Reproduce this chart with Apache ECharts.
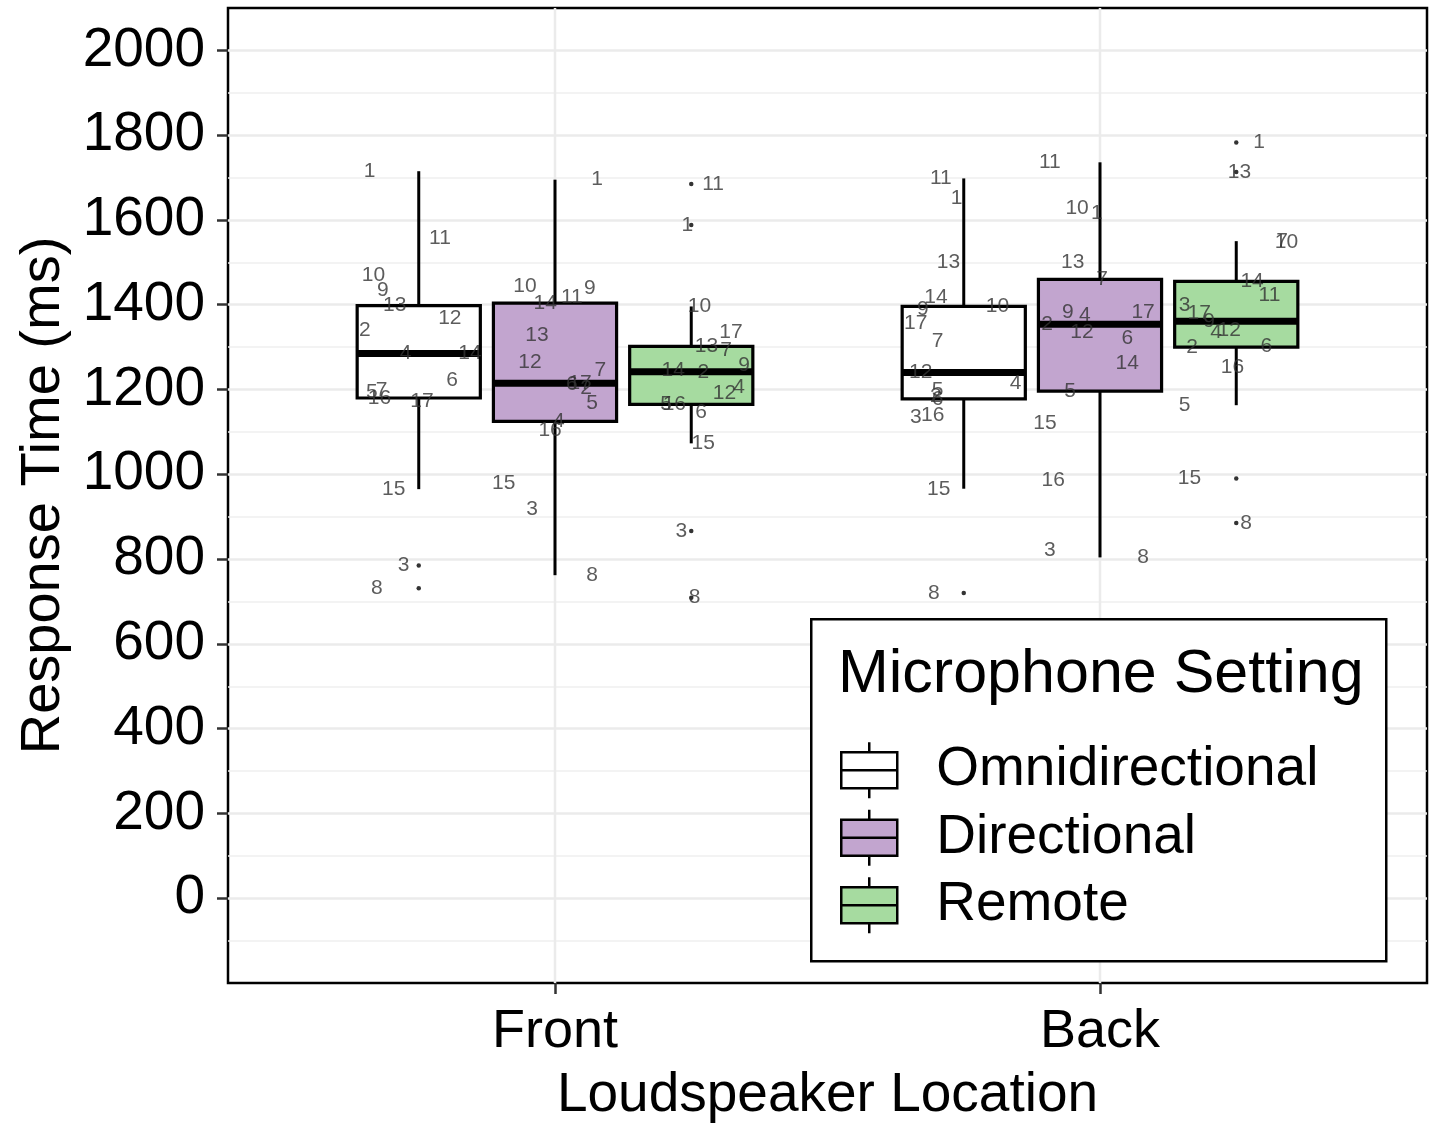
<!DOCTYPE html>
<html>
<head>
<meta charset="utf-8">
<title>Response Time by Loudspeaker Location</title>
<script src="https://cdn.jsdelivr.net/npm/echarts@6/dist/echarts.min.js"></script>
<style>
  html, body { margin: 0; padding: 0; background: #fff; }
  #chart { width: 1435px; height: 1131px; }
</style>
</head>
<body>
<div id="chart"></div>
<script>
// Categories
const locations = ['Front', 'Back'];
const settings = ['Omnidirectional', 'Directional', 'Remote'];
const yTicks = [0, 200, 400, 600, 800, 1000, 1200, 1400, 1600, 1800, 2000];

// Response times (ms) per participant, listed for participants 1..17
const frontOmni        = [1715, 1340, 785, 1285, 1193, 1222, 1198, 731, 1434, 1469, 1557, 1368, 1398, 1285, 965, 1180, 1172];
const frontDirectional = [1695, 1203, 917, 1125, 1167, 1213, 1245, 762, 1439, 1443, 1417, 1264, 1328, 1404, 979, 1104, 1215];
const frontRemote      = [1588, 1242, 866, 1205, 1165, 1146, 1292, 709, 1257, 1396, 1685, 1191, 1302, 1245, 1073, 1165, 1335];
const backOmni         = [1651, 1185, 1134, 1215, 1198, 1178, 1314, 720, 1390, 1396, 1698, 1240, 1500, 1417, 966, 1139, 1356];
const backDirectional  = [1616, 1354, 821, 1375, 1196, 1321, 1460, 804, 1382, 1627, 1736, 1335, 1500, 1262, 1120, 986, 1382];
const backRemote       = [1783, 1300, 1399, 1335, 1163, 1303, 1550, 885, 1361, 1548, 1422, 1340, 1713, 1455, 990, 1252, 1380];

// Horizontal jitter of each participant label (x-axis units)
const jitterFrontOmni        = [-0.090, -0.099, -0.028, -0.024, -0.086, 0.061, -0.068, -0.077, -0.066, -0.083, 0.039, 0.057, -0.044, 0.094, -0.046, -0.072, 0.006];
const jitterFrontDirectional = [0.077, 0.057, -0.042, 0.007, 0.068, 0.031, 0.083, 0.068, 0.064, -0.055, 0.031, -0.046, -0.033, -0.018, -0.094, -0.009, 0.046];
const jitterFrontRemote      = [-0.007, 0.022, -0.018, 0.088, -0.046, 0.018, 0.064, 0.006, 0.097, 0.015, 0.040, 0.061, 0.028, -0.033, 0.022, -0.031, 0.073];
const jitterBackOmni         = [-0.013, -0.051, -0.088, 0.095, -0.048, -0.048, -0.048, -0.055, -0.075, 0.062, -0.042, -0.079, -0.028, -0.051, -0.046, -0.057, -0.088];
const jitterBackDirectional  = [-0.006, -0.097, -0.092, -0.028, -0.055, 0.050, 0.004, 0.079, -0.059, -0.042, -0.092, -0.033, -0.050, 0.050, -0.101, -0.086, 0.079];
const jitterBackRemote       = [0.042, -0.081, -0.095, -0.037, -0.095, 0.055, 0.084, 0.018, -0.050, 0.092, 0.061, -0.013, 0.006, 0.029, -0.086, -0.007, -0.068];

// values[location][setting], jitter[location][setting]
const values = [
  [frontOmni, frontDirectional, frontRemote],
  [backOmni, backDirectional, backRemote]
];
const jitter = [
  [jitterFrontOmni, jitterFrontDirectional, jitterFrontRemote],
  [jitterBackOmni, jitterBackDirectional, jitterBackRemote]
];

const FONT = '"Liberation Sans", Arial, sans-serif';
const fills = ['#FFFFFF', '#C2A5CF', '#A6DBA0'];
const DODGE = 0.25;      // spacing between the three boxes of a location
const BOX_WIDTH = 0.226; // box width in x-axis units

// Quantile (linear interpolation between order statistics)
function quantile(sorted, p) {
  const h = (sorted.length - 1) * p;
  const lo = Math.floor(h), hi = Math.ceil(h);
  return sorted[lo] + (sorted[hi] - sorted[lo]) * (h - lo);
}

// Five-number summary with Tukey whiskers (1.5 × IQR) and outliers
function boxStats(arr) {
  const s = arr.slice().sort((a, b) => a - b);
  const q1 = quantile(s, 0.25), med = quantile(s, 0.5), q3 = quantile(s, 0.75);
  const iqr = q3 - q1;
  const loFence = q1 - 1.5 * iqr, hiFence = q3 + 1.5 * iqr;
  const inside = s.filter(v => v >= loFence && v <= hiFence);
  return {
    low: inside[0], q1, med, q3, high: inside[inside.length - 1],
    outliers: s.filter(v => v < loFence || v > hiFence)
  };
}

function groupCenter(li, si) { return (li + 1) + (si - 1) * DODGE; }

// Box series, one per microphone setting
const boxSeries = settings.map((name, si) => ({
  name,
  type: 'custom',
  z: 3,
  itemStyle: { color: fills[si] },
  encode: { x: 0, y: [1, 2, 3, 4, 5] },
  data: locations.map((loc, li) => {
    const st = boxStats(values[li][si]);
    return [groupCenter(li, si), st.low, st.q1, st.med, st.q3, st.high];
  }),
  renderItem(params, api) {
    const x = api.value(0);
    const pLo = api.coord([x, api.value(1)]);
    const pQ1 = api.coord([x, api.value(2)]);
    const pMd = api.coord([x, api.value(3)]);
    const pQ3 = api.coord([x, api.value(4)]);
    const pHi = api.coord([x, api.value(5)]);
    const half = api.size([BOX_WIDTH, 0])[0] / 2;
    const fill = api.visual('color');
    return {
      type: 'group',
      children: [
        { type: 'line', shape: { x1: pHi[0], y1: pHi[1], x2: pQ3[0], y2: pQ3[1] }, style: { stroke: '#000', lineWidth: 3 } },
        { type: 'line', shape: { x1: pQ1[0], y1: pQ1[1], x2: pLo[0], y2: pLo[1] }, style: { stroke: '#000', lineWidth: 3 } },
        { type: 'rect', shape: { x: pQ3[0] - half, y: pQ3[1], width: half * 2, height: pQ1[1] - pQ3[1] },
          style: { fill, stroke: '#000', lineWidth: 3.2 } },
        { type: 'line', shape: { x1: pMd[0] - half, y1: pMd[1], x2: pMd[0] + half, y2: pMd[1] },
          style: { stroke: '#000', lineWidth: 7 } }
      ]
    };
  }
}));

// Outlier points
const outlierData = [];
locations.forEach((loc, li) => settings.forEach((s, si) => {
  boxStats(values[li][si]).outliers.forEach(v => outlierData.push([groupCenter(li, si), v]));
}));

// Participant number labels
const labelData = [];
locations.forEach((loc, li) => settings.forEach((s, si) => {
  values[li][si].forEach((v, k) => {
    labelData.push([groupCenter(li, si) + jitter[li][si][k], v, k + 1]);
  });
}));

const chart = echarts.init(document.getElementById('chart'), null, { renderer: 'canvas' });

chart.setOption({
  animation: false,
  backgroundColor: '#fff',
  textStyle: { fontFamily: FONT },
  grid: {
    left: 228, top: 8, width: 1199, height: 975,
    show: true, borderColor: '#000', borderWidth: 2.5, backgroundColor: '#fff'
  },
  xAxis: {
    type: 'value', min: 0.4, max: 2.6,
    name: 'Loudspeaker Location', nameLocation: 'middle', nameGap: 85,
    nameTextStyle: { fontSize: 55, color: '#000', fontFamily: FONT },
    axisLine: { show: false, onZero: false },
    axisTick: { show: true, customValues: [1, 2], length: 11, lineStyle: { color: '#333', width: 2.5 } },
    axisLabel: {
      customValues: [1, 2], margin: 22, fontSize: 54, color: '#000', fontFamily: FONT,
      formatter: v => locations[Math.round(v) - 1]
    },
    splitLine: { show: false }
  },
  yAxis: {
    type: 'value', min: -200, max: 2100, interval: 200,
    name: 'Response Time (ms)', nameLocation: 'middle', nameGap: 144,
    nameTextStyle: { fontSize: 56, color: '#000', fontFamily: FONT },
    axisLine: { show: false, onZero: false },
    axisTick: { show: true, customValues: yTicks, length: 11, lineStyle: { color: '#333', width: 2.5 } },
    axisLabel: { customValues: yTicks, margin: 23, fontSize: 55, color: '#000', fontFamily: FONT,
                 formatter: v => String(v) },
    splitLine: { show: true, lineStyle: { color: '#EBEBEB', width: 2.5 } },
    minorTick: { show: false, splitNumber: 2 },
    minorSplitLine: { show: true, lineStyle: { color: '#EFEFEF', width: 1.5 } }
  },
  title: {
    text: 'Microphone Setting', left: 833, top: 640, z: 20,
    textStyle: { fontSize: 61, fontWeight: 'normal', color: '#000', fontFamily: FONT }
  },
  graphic: [{
    type: 'rect', left: 810, top: 618, z: 10,
    shape: { width: 575, height: 342 },
    style: { fill: '#fff', stroke: '#000', lineWidth: 2.5 }
  }],
  legend: {
    orient: 'vertical', left: 835, top: 736, z: 20,
    itemWidth: 56, itemHeight: 56, itemGap: 9,
    selectedMode: false,
    icon: 'path://M0 10H56V46H0Z M28 0V10 M28 46V56 M0 28H56',
    itemStyle: { borderColor: '#000', borderWidth: 2.5 },
    textStyle: { fontSize: 55, color: '#000', fontFamily: FONT, padding: [0, 0, 0, 34] },
    data: settings.map((name, i) => ({ name, itemStyle: { color: fills[i] } }))
  },
  series: [
    {
      // vertical major gridlines at each location
      type: 'custom', z: 1, silent: true,
      encode: { x: 0 },
      data: locations.map((l, i) => [i + 1]),
      renderItem(params, api) {
        const p = api.coord([api.value(0), 0]);
        const cs = params.coordSys;
        return { type: 'line', shape: { x1: p[0], y1: cs.y, x2: p[0], y2: cs.y + cs.height },
                 style: { stroke: '#EBEBEB', lineWidth: 2.5 } };
      }
    },
    ...boxSeries,
    {
      type: 'scatter', z: 5, silent: true,
      symbol: 'circle', symbolSize: 4.5,
      itemStyle: { color: '#000' },
      data: outlierData
    },
    {
      type: 'scatter', z: 6, silent: true,
      symbol: 'circle', symbolSize: 1,
      itemStyle: { color: 'rgba(0,0,0,0)' },
      label: {
        show: true, position: 'inside',
        formatter: p => String(p.value[2]),
        fontSize: 21, color: '#333', fontFamily: FONT
      },
      data: labelData
    }
  ]
});
</script>
</body>
</html>
